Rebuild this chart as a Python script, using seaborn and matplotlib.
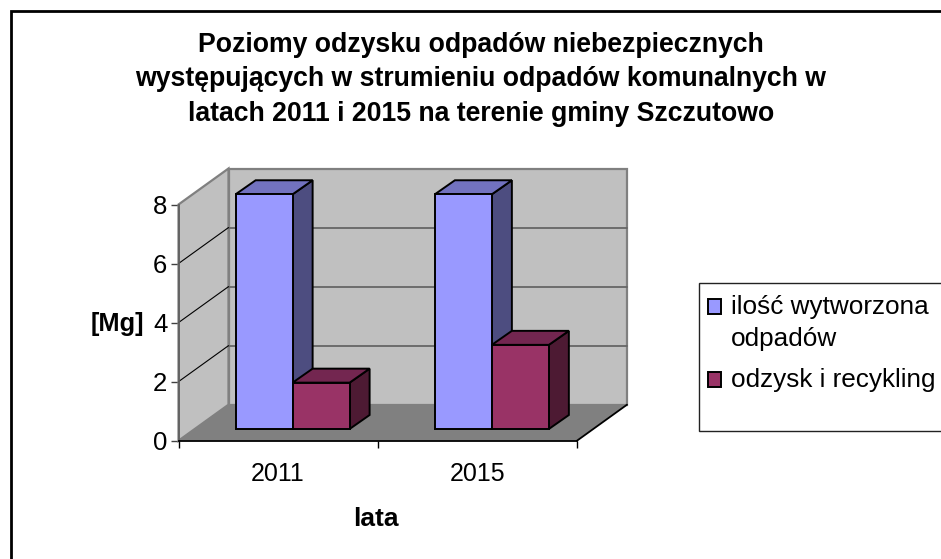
import pandas as pd
import seaborn as sns
import matplotlib.pyplot as plt
from matplotlib.patches import Patch, Rectangle

# Data
years = ["2011", "2015"]
waste_total = [7.95, 7.95]
waste_recycled = [1.57, 2.85]
y_ticks = [0, 2, 4, 6, 8]
series_names = ["ilość wytworzona\nodpadów", "odzysk i recykling"]
title = ("Poziomy odzysku odpadów niebezpiecznych\n"
         "występujących w strumieniu odpadów komunalnych w\n"
         "latach 2011 i 2015 na terenie gminy Szczutowo")

df = pd.DataFrame({
    "rok": years * 2,
    "masa": waste_total + waste_recycled,
    "seria": [series_names[0]] * 2 + [series_names[1]] * 2,
})

W, H = 941, 559
sns.set_theme(style="white")
plt.rcParams["font.family"] = ["Liberation Sans", "DejaVu Sans"]
fig = plt.figure(figsize=(W / 100, H / 100), dpi=100)


def px_axes(left, top, right, bottom):
    return fig.add_axes([left / W, 1 - bottom / H, (right - left) / W, (bottom - top) / H])


# outer frame, runs off the right and bottom edges like the original
fig.add_artist(Rectangle((10.5 / W, 1 - 570 / H), 940 / W, 559 / H, transform=fig.transFigure,
                         fill=False, ec="black", lw=2.0, clip_on=False))

# front plane of the fake 3D box, holds the ticks
ax = px_axes(178.5, 204.5, 577, 440.7)
ax.set_xlim(-0.5, 1.5)
ax.set_ylim(0, 8)
ax.patch.set_visible(False)
sx = 2 / 398.5   # data units per pixel
sy = 8 / 236.2
wall_dx, wall_dy = 50 * sx, 36 * sy

# back wall, side wall, floor
ax.fill([-0.5 + wall_dx, 1.5 + wall_dx, 1.5 + wall_dx, -0.5 + wall_dx],
        [wall_dy, wall_dy, 8 + wall_dy, 8 + wall_dy],
        fc="#c0c0c0", ec="#808080", lw=1.6, clip_on=False, zorder=1)
ax.fill([-0.5, -0.5 + wall_dx, -0.5 + wall_dx, -0.5],
        [0, wall_dy, 8 + wall_dy, 8],
        fc="#c0c0c0", ec="#808080", lw=1.6, clip_on=False, zorder=1)
ax.fill([-0.5, 1.5, 1.5 + wall_dx, -0.5 + wall_dx],
        [0, 0, wall_dy, wall_dy],
        fc="#808080", ec="none", clip_on=False, zorder=2)
ax.plot([1.5, 1.5 + wall_dx], [0, wall_dy], color="black", lw=1.3, clip_on=False, zorder=3)

for t in y_ticks[1:-1]:
    ax.plot([-0.5 + wall_dx, 1.5 + wall_dx], [t + wall_dy] * 2, color="#666666", lw=1.3, clip_on=False, zorder=2)
    ax.plot([-0.5, -0.5 + wall_dx], [t, t + wall_dy], color="black", lw=0.8, clip_on=False, zorder=2)

sns.despine(ax=ax)
ax.spines["left"].set_linewidth(1.3)
ax.spines["left"].set_color("#606060")
ax.spines["bottom"].set_linewidth(1.3)
ax.spines["bottom"].set_color("black")
ax.spines["bottom"].set_zorder(4)
ax.set_yticks(y_ticks)
ax.set_xticks([-0.5, 0.5, 1.5])
ax.set_xticklabels([])
ax.set_xticks([0, 1], labels=years, minor=True)
ax.tick_params(axis="x", which="major", length=5, width=1, color="black", bottom=True)
ax.tick_params(axis="x", which="minor", length=0, labelsize=18, pad=15.2, labelcolor="black", bottom=True)
ax.tick_params(axis="y", length=6, width=1, color="#404040", labelsize=18.5, pad=2, left=True, labelcolor="black")
ax.set_xlabel("lata", fontsize=19, fontweight="bold", color="black", labelpad=15, x=0.495)
ax.set_ylabel("[Mg]", fontsize=18.3, fontweight="bold", color="black", rotation=0, labelpad=26, va="center", y=0.495)

# bars sit on a plane pushed back into the box
bars = px_axes(193, 192.8, 591.5, 429)
sns.barplot(data=df, x="rok", y="masa", hue="seria", palette=["#9999ff", "#993366"],
            width=0.572, gap=0, edgecolor="black", linewidth=1.4, saturation=1,
            legend=False, ax=bars)
bars.set_xlim(-0.5, 1.5)
bars.set_ylim(0, 8)
bars.axis("off")

bar_dx, bar_dy = 20 * sx, 14 * sy
top_colors = {0: "#7272bf", 1: "#732650"}
side_colors = {0: "#4d4d80", 1: "#4d1a33"}
rects = [p for p in bars.patches if p.get_height() > 0]
rects = sorted(rects, key=lambda p: p.get_x())
z = 3
for i, p in enumerate(rects):
    x0, x1 = p.get_x(), p.get_x() + p.get_width()
    h = p.get_height()
    serie = i % 2
    bars.fill([x1, x1 + bar_dx, x1 + bar_dx, x1], [0, bar_dy, h + bar_dy, h],
              fc=side_colors[serie], ec="black", lw=1.4, clip_on=False, zorder=z)
    bars.fill([x0, x1, x1 + bar_dx, x0 + bar_dx], [h, h, h + bar_dy, h + bar_dy],
              fc=top_colors[serie], ec="black", lw=1.4, clip_on=False, zorder=z)
    p.set_zorder(z + 1)
    p.set_clip_on(False)
    z += 2

fig.text(481 / W, 1 - 79.5 / H, title, ha="center", va="center", fontsize=19.2, fontweight="bold",
         color="black", linespacing=1.42)

# legend box
fig.add_artist(Rectangle((698.5 / W, 1 - 431 / H), 260 / W, 148 / H, transform=fig.transFigure,
                         fc="white", ec="#222222", lw=1.0, clip_on=False))
handles = [Patch(fc="#9999ff", ec="black", lw=1.4), Patch(fc="#993366", ec="black", lw=1.4)]
leg = fig.legend(handles, series_names, loc="upper left", bbox_to_anchor=(708 / W, 1 - 295 / H),
                 frameon=False, fontsize=18.8, handlelength=0.5, handleheight=0.5, handletextpad=0.38,
                 labelspacing=0.67, borderpad=0, borderaxespad=0, labelcolor="black")
for txt in leg.get_texts():
    txt.set_linespacing(1.4)
# handle lines up with the first line of its label, not the middle
first, second = leg.legend_handles
first.set_y(first.get_y() + 11.9)
second.set_y(second.get_y() - 1.4)

fig.savefig("out.png", dpi=100)
